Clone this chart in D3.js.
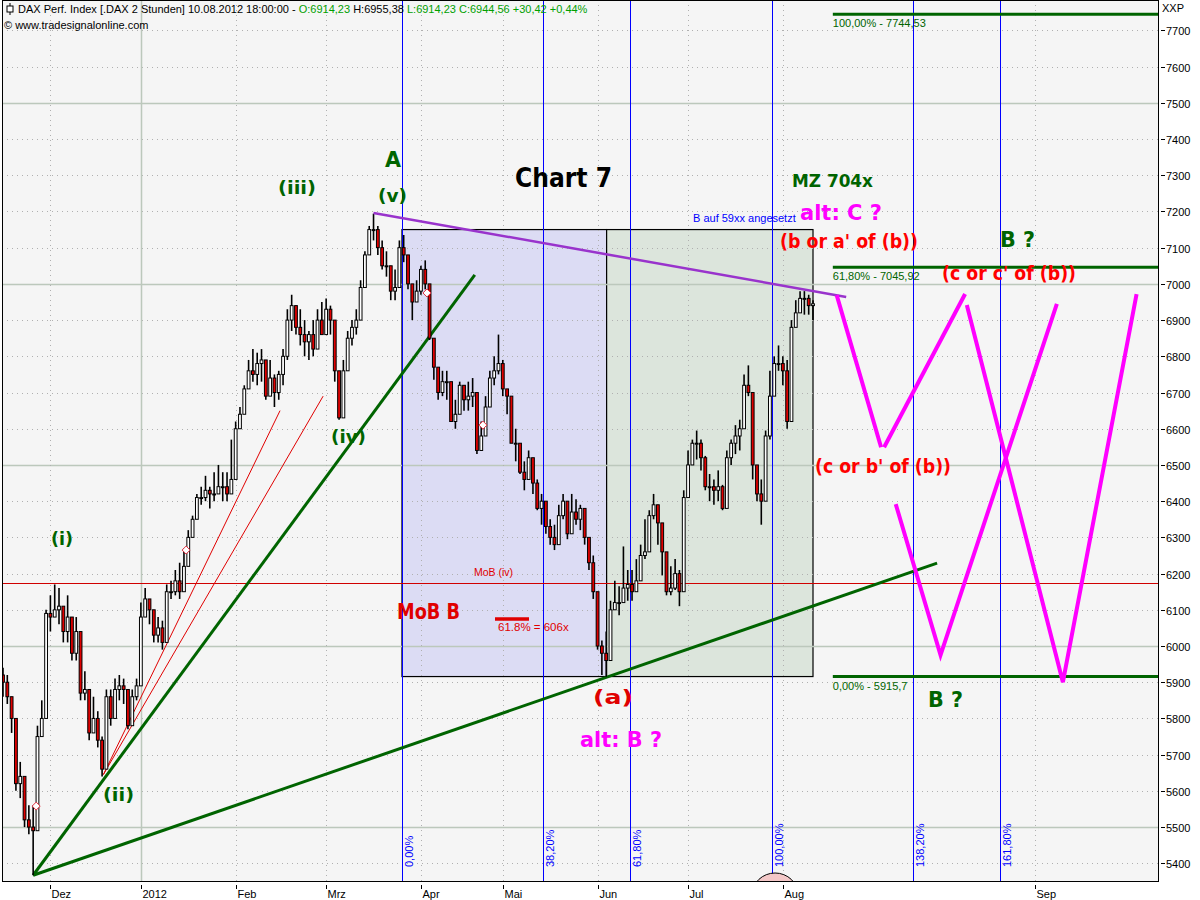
<!DOCTYPE html>
<html><head><meta charset="utf-8">
<script src="https://cdn.jsdelivr.net/npm/d3@7"></script>
<style>
body{margin:0;background:#fff}
svg{display:block}
</style></head>
<body><svg id="chart" width="1200" height="900"></svg>
<script>
// ---------------- DATA ----------------
// daily bars (trading days, 16.11.2011 .. 10.08.2012)
const highs = [5940,5920,5860,5700,5680,5600,5560,5560,5780,5850,6100,
6140,6170,6160,6100,6140,6080,6080,5950,5930,5860,5860,5820,5750,5880,5880,5910,5920,5910,5860,5880,5910,
6120,6160,6120,6100,6080,6070,6170,6180,6210,6230,6270,6320,6360,6420,6440,6470,6440,6480,6500,6480,6480,6570,
6620,6660,6720,6790,6820,6810,6820,6760,6790,6750,6760,6820,6930,6970,6940,6930,6900,6870,6900,6930,6950,
6960,6940,6870,6740,6790,6870,6900,6930,7010,7090,7160,7194,7160,7120,7090,7050,7040,7120,7135,7080,6985,7010,
7050,7065,6955,6845,6760,6760,6760,6705,6680,6730,6720,6730,6740,6620,6620,6690,6760,6800,6860,
6790,6705,6665,6600,6555,6510,6540,6500,6460,6420,6375,6350,6335,6390,6420,6375,6420,6405,6390,6375,6295,6250,
6125,6015,6040,6125,6180,6165,6275,6210,6210,6240,6280,6350,6375,6420,6390,6305,6220,6220,6240,6210,6430,
6540,6570,6595,6570,6525,6475,6460,6485,6445,6540,6570,6610,6625,6750,6775,6570,6485,6460,6595,6760,6800,6830,
6800,6790,6900,6955,6980,6980,6970,6955];
const lows = [5860,5840,5760,5600,5580,5500,5480,5367,5560,5760,5800,
6040,6080,6060,6010,6010,5960,5960,5850,5850,5740,5780,5720,5640,5690,5780,5830,5850,5840,5770,5800,5850,
5900,6090,6060,6010,6010,5990,6050,6130,6140,6130,6180,6250,6300,6350,6390,6400,6380,6400,6430,6400,6400,6460,
6540,6600,6650,6720,6730,6720,6730,6680,6710,6660,6680,6720,6790,6870,6860,6830,6800,6790,6800,6850,6870,
6870,6860,6730,6625,6650,6760,6830,6860,6900,7010,7080,7120,7080,7040,7020,6955,6955,7030,7060,6985,6900,6955,
6970,6985,6845,6735,6680,6690,6680,6620,6600,6650,6650,6650,6660,6530,6540,6610,6680,6720,6750,
6690,6640,6570,6510,6475,6430,6475,6420,6375,6335,6310,6280,6265,6310,6350,6295,6350,6335,6320,6280,6210,6130,
5990,5920,5915,6015,6100,6085,6155,6125,6125,6155,6195,6240,6295,6350,6280,6195,6140,6140,6155,6110,6210,
6455,6500,6515,6485,6430,6400,6390,6400,6375,6445,6500,6530,6540,6610,6690,6460,6400,6335,6400,6570,6735,6760,
6720,6600,6680,6885,6930,6915,6915,6900];
const closes = [5900,5860,5800,5620,5640,5520,5500,5490,5750,5800,6090,
6080,6100,6110,6040,6080,5980,6040,5870,5880,5760,5800,5740,5660,5860,5800,5880,5890,5880,5780,5860,5890,
6080,6130,6100,6030,6050,6010,6150,6150,6180,6150,6220,6300,6350,6410,6410,6430,6420,6420,6440,6440,6420,6460,
6600,6640,6710,6760,6750,6780,6790,6690,6740,6700,6750,6800,6900,6940,6880,6860,6840,6860,6820,6900,6860,
6930,6900,6760,6630,6760,6850,6880,6900,6990,7080,7150,7150,7100,7050,7050,6980,6990,7100,7080,7000,6950,6980,
7040,7000,6850,6770,6700,6730,6730,6620,6640,6720,6680,6690,6700,6540,6580,6660,6740,6760,6780,
6710,6690,6560,6560,6480,6460,6520,6450,6380,6400,6330,6300,6280,6360,6400,6310,6370,6350,6380,6300,6230,6150,
6000,5980,5960,6100,6120,6120,6160,6170,6150,6180,6250,6260,6360,6390,6340,6260,6150,6160,6200,6150,6410,
6500,6560,6560,6520,6440,6440,6430,6440,6380,6520,6560,6580,6600,6720,6700,6500,6420,6400,6580,6690,6780,6780,
6760,6620,6880,6920,6960,6960,6940,6945];
const firstOpen = 5920;

// month ticks: label and index of first trading day (Sep: future, index in bar units)
const monthLabels = ["Dez","2012","Feb","Mrz","Apr","Mai","Jun","Jul","Aug","Sep"];
const monthIndex  = [11, 32, 54, 75, 97, 116, 138, 159, 181, 239.5];
const yearIndex = 32;

const priceTicks = [5400,5500,5600,5700,5800,5900,6000,6100,6200,6300,6400,6500,6600,6700,6800,6900,7000,7100,7200,7300,7400,7500,7600,7700];

// Fibonacci time zones (bar index units) & retracement levels
const fibTimeStart = 92.6, fibTimeEnd = 178.4;
const fibTimeLevels = [0, 0.382, 0.618, 1, 1.382, 1.618];
const fibTimeLabels = ["0,00%","38,20%","61,80%","100,00%","138,20%","161,80%"];
const fibPriceLevels = [7744.53, 7045.92, 5915.7];
const fibPriceLabels = ["100,00% - 7744,53","61,80% - 7045,92","0,00% - 5915,7"];
const fibPriceStart = 192.6;

// boxes [fromIndex, toIndex, lowPrice, highPrice]
const boxBlue  = [92.6, 140.1, 5915.7, 7150];
const boxGreen = [140.1, 188, 5915.7, 7150];

// trend lines [index, price]
const purpleLine = [[86, 7196], [195.7, 6964]];
const greenLong  = [[7, 5367], [216.8, 6229]];
const greenSteep = [[7, 5367], [109.5, 7025]];
const redFan1    = [[23.3, 5645], [64.3, 6650]];
const redFan2    = [[23.3, 5645], [74.3, 6690]];
const mobLevel   = 6173;

// projected magenta paths [index, price]
const magentaPaths = [
  [[193.5, 6969], [203.8, 6549]],
  [[204.5, 6549], [223.3, 6972]],
  [[207.2, 6392], [217.6, 5975], [244.6, 6945]],
  [[223.7, 6942], [246.0, 5900], [263.1, 6972]]
];

// diamond markers [index, price]
const markers = [[7.7, 5558], [42.5, 6265], [98.4, 6975], [111.4, 6610]];

// ---------------- CHART ----------------
const svg = d3.select("#chart");
const plot = {l:2, r:1158, t:0, b:881};
const x = d3.scaleLinear().domain([0, 188]).range([3, 813]);
const y = d3.scaleLinear().domain([5400, 7700]).range([863.3, 30.4]);
const SMALL = "'Liberation Sans', Arial, sans-serif";
const BOLD = "'DejaVu Sans', Verdana, sans-serif";

svg.append("rect").attr("width",1200).attr("height",900).attr("fill","#fff");
svg.append("rect").attr("x",plot.l).attr("y",plot.t).attr("width",plot.r-plot.l).attr("height",plot.b-plot.t).attr("fill","#f5f5f5");

const clip = svg.append("defs").append("clipPath").attr("id","pc");
clip.append("rect").attr("x",plot.l).attr("y",plot.t).attr("width",plot.r-plot.l).attr("height",plot.b-plot.t);
const g = svg.append("g").attr("clip-path","url(#pc)");

// boxes
function box(b, fill){
  g.append("rect").attr("x",x(b[0])).attr("y",y(b[3])).attr("width",x(b[1])-x(b[0])).attr("height",y(b[2])-y(b[3]))
   .attr("fill",fill).attr("stroke","#000").attr("stroke-width",1.2);
}
box(boxBlue,"#dcdcf4");
box(boxGreen,"#dce5dc");

// horizontal grid
priceTicks.forEach(p=>{
  const major = p%500===0;
  g.append("line").attr("x1",plot.l).attr("x2",plot.r).attr("y1",Math.round(y(p))+0.5).attr("y2",Math.round(y(p))+0.5)
   .attr("stroke", major? "#bcc8bc":"#b0b0b0").attr("stroke-width", major?1.5:1)
   .attr("stroke-dasharray", major? null : "1,4");
});
// vertical grid
monthIndex.forEach((mi,k)=>{
  const xx = Math.round(x(mi))+0.5;
  const solid = mi===yearIndex;
  g.append("line").attr("x1",xx).attr("x2",xx).attr("y1",plot.t).attr("y2",plot.b)
   .attr("stroke", solid? "#bcc8bc":"#b0b0b0").attr("stroke-width", solid?1.5:1).attr("stroke-dasharray", solid?null:"1,4");
});

// Fibonacci time lines
fibTimeLevels.forEach((f,k)=>{
  const xi = x(fibTimeStart + f*(fibTimeEnd-fibTimeStart));
  const xx = Math.round(xi)+0.5;
  g.append("line").attr("x1",xx).attr("x2",xx).attr("y1",plot.t).attr("y2",plot.b).attr("stroke","#0000ff").attr("stroke-width",1);
  g.append("text").attr("transform",`translate(${xx+10},${plot.b-14}) rotate(-90)`)
   .attr("font-family",SMALL).attr("font-size",11).attr("fill","#0000ff").text(fibTimeLabels[k]);
});

// MoB level line
g.append("line").attr("x1",plot.l).attr("x2",plot.r).attr("y1",Math.round(y(mobLevel))+0.5).attr("y2",Math.round(y(mobLevel))+0.5)
 .attr("stroke","#d00000").attr("stroke-width",1);

// Fibonacci retracement levels
fibPriceLevels.forEach((p,k)=>{
  g.append("line").attr("x1",x(fibPriceStart)).attr("x2",plot.r).attr("y1",y(p)).attr("y2",y(p)).attr("stroke","#006400").attr("stroke-width",3);
  g.append("text").attr("x",x(fibPriceStart)).attr("y",y(p)+13).attr("font-family",SMALL).attr("font-size",11).attr("fill","#006400").text(fibPriceLabels[k]);
});

// cycle arc
g.append("ellipse").attr("cx",x(179.2)).attr("cy",plot.b+14).attr("rx",23).attr("ry",22).attr("fill","#f4c8c8").attr("stroke","#000");

// trendlines
const line = d3.line().x(d=>x(d[0])).y(d=>y(d[1]));
g.append("path").attr("d",line(redFan1)).attr("stroke","#e00000").attr("stroke-width",1).attr("fill","none");
g.append("path").attr("d",line(redFan2)).attr("stroke","#e00000").attr("stroke-width",1).attr("fill","none");
g.append("path").attr("d",line(greenSteep)).attr("stroke","#006400").attr("stroke-width",3).attr("fill","none");
g.append("path").attr("d",line(greenLong)).attr("stroke","#006400").attr("stroke-width",3).attr("fill","none");

// candles
const n = Math.min(highs.length, lows.length, closes.length);
const bars = d3.range(n).map(i=>({i, h:highs[i], l:lows[i], c:closes[i], o: i===0? firstOpen : closes[i-1]}));
const cg = g.append("g");
cg.selectAll("line.w").data(bars).join("line").attr("class","w")
  .attr("x1",d=>x(d.i)).attr("x2",d=>x(d.i)).attr("y1",d=>y(d.h)).attr("y2",d=>y(d.l)).attr("stroke","#000").attr("stroke-width",1.6);
cg.selectAll("rect.b").data(bars).join("rect").attr("class","b")
  .attr("x",d=>x(d.i)-1.4).attr("width",2.8)
  .attr("y",d=>y(Math.max(d.o,d.c))).attr("height",d=>Math.max(1,Math.abs(y(d.o)-y(d.c))))
  .attr("fill",d=>d.c>=d.o? "#ffffff":"#e00000").attr("stroke","#000").attr("stroke-width",1);

// purple line
g.append("path").attr("d",line(purpleLine)).attr("stroke","#9933cc").attr("stroke-width",2.5).attr("fill","none");

// magenta projections
magentaPaths.forEach(p=>{
  g.append("path").attr("d",line(p)).attr("stroke","#ff00ff").attr("stroke-width",4).attr("fill","none").attr("stroke-linejoin","miter");
});

// markers
markers.forEach(m=>{
  const cx=x(m[0]), cy=y(m[1]);
  g.append("path").attr("d",`M${cx},${cy-4}L${cx+4},${cy}L${cx},${cy+4}L${cx-4},${cy}Z`).attr("fill","#fff").attr("stroke","#e03040").attr("stroke-width",1);
});

// MoB marker bar
g.append("line").attr("x1",495).attr("x2",529).attr("y1",619).attr("y2",619).attr("stroke","#e00000").attr("stroke-width",3.5);

// labels
const labels = [
  {t:"A", x:385, y:167, s:22, c:"#006400", w:16},
  {t:"(v)", x:378, y:202, s:18, c:"#006400", w:29},
  {t:"(iii)", x:278, y:194, s:18, c:"#006400", w:38},
  {t:"(iv)", x:331, y:443, s:18, c:"#006400", w:35},
  {t:"(i)", x:51, y:545, s:18, c:"#006400", w:22},
  {t:"(ii)", x:103, y:801, s:18, c:"#006400", w:31},
  {t:"Chart 7", x:515, y:187, s:27, c:"#000000", w:97},
  {t:"MZ 704x", x:792, y:187, s:18, c:"#006400", w:81},
  {t:"alt: C ?", x:800, y:220, s:22, c:"#ff00ff", w:82},
  {t:"(b or a' of (b))", x:780, y:248, s:19, c:"#ff0000", w:138},
  {t:"B ?", x:1000, y:247, s:21, c:"#006400", w:35},
  {t:"(c or c' of (b))", x:942, y:280, s:19, c:"#ff0000", w:134},
  {t:"(c or b' of (b))", x:815, y:473, s:19, c:"#ff0000", w:136},
  {t:"B ?", x:928, y:707, s:21, c:"#006400", w:35},
  {t:"MoB B", x:397, y:619, s:22, c:"#e00000", w:63},
  {t:"(a)", x:593, y:704, s:19, c:"#e00000", w:40},
  {t:"alt: B ?", x:580, y:747, s:22, c:"#ff00ff", w:82}
];
labels.forEach(L=>{
  svg.append("text").attr("x",L.x).attr("y",L.y).attr("font-family",BOLD).attr("font-weight","bold")
    .attr("font-size",L.s).attr("fill",L.c).attr("textLength",L.w).attr("lengthAdjust","spacingAndGlyphs").text(L.t);
});
svg.append("text").attr("x",693).attr("y",222).attr("font-family",SMALL).attr("font-size",11).attr("fill","#0000ff").text("B auf 59xx angesetzt");
svg.append("text").attr("x",474).attr("y",576).attr("font-family",SMALL).attr("font-size",10.5).attr("fill","#e00000").text("MoB (iv)");
svg.append("text").attr("x",498).attr("y",631).attr("font-family",SMALL).attr("font-size",11.5).attr("fill","#e00000").text("61.8% = 606x");

// plot frame
svg.append("rect").attr("x",plot.l+0.5).attr("y",plot.t+0.5).attr("width",plot.r-plot.l).attr("height",plot.b-plot.t)
  .attr("fill","none").attr("stroke","#000").attr("stroke-width",1);

// y axis
priceTicks.forEach(p=>{
  const yy=Math.round(y(p))+0.5;
  svg.append("line").attr("x1",plot.r+3).attr("x2",plot.r+7).attr("y1",yy).attr("y2",yy).attr("stroke","#000");
  svg.append("text").attr("x",plot.r+8).attr("y",yy+4).attr("font-family",SMALL).attr("font-size",11).attr("fill","#000").text(p);
});
svg.append("text").attr("x",plot.r+4).attr("y",12).attr("font-family",SMALL).attr("font-size",11).text("XXP");

// x axis
monthIndex.forEach((mi,k)=>{
  const xx=Math.round(x(mi))+0.5;
  svg.append("line").attr("x1",xx).attr("x2",xx).attr("y1",plot.b+4).attr("y2",plot.b+8).attr("stroke","#000");
  svg.append("text").attr("x",xx+1).attr("y",898).attr("font-family",SMALL).attr("font-size",11).text(monthLabels[k]);
});

// header
const ic = svg.append("g");
ic.append("line").attr("x1",10).attr("x2",10).attr("y1",3).attr("y2",15).attr("stroke","#000");
ic.append("rect").attr("x",7).attr("y",6).attr("width",6).attr("height",6).attr("fill","#fff").attr("stroke","#000");
const title = svg.append("text").attr("x",18).attr("y",13).attr("font-family",SMALL).attr("font-size",11);
title.append("tspan").attr("fill","#000").text("DAX Perf. Index [.DAX  2 Stunden] 10.08.2012 18:00:00 - ");
title.append("tspan").attr("fill","#00a000").text("O:6914,23 ");
title.append("tspan").attr("fill","#000").text("H:6955,38 ");
title.append("tspan").attr("fill","#00a000").text("L:6914,23 ");
title.append("tspan").attr("fill","#00a000").text("C:6944,56 +30,42 +0,44%");
svg.append("text").attr("x",4).attr("y",29).attr("font-family",SMALL).attr("font-size",11).text("© www.tradesignalonline.com");
</script></body></html>
